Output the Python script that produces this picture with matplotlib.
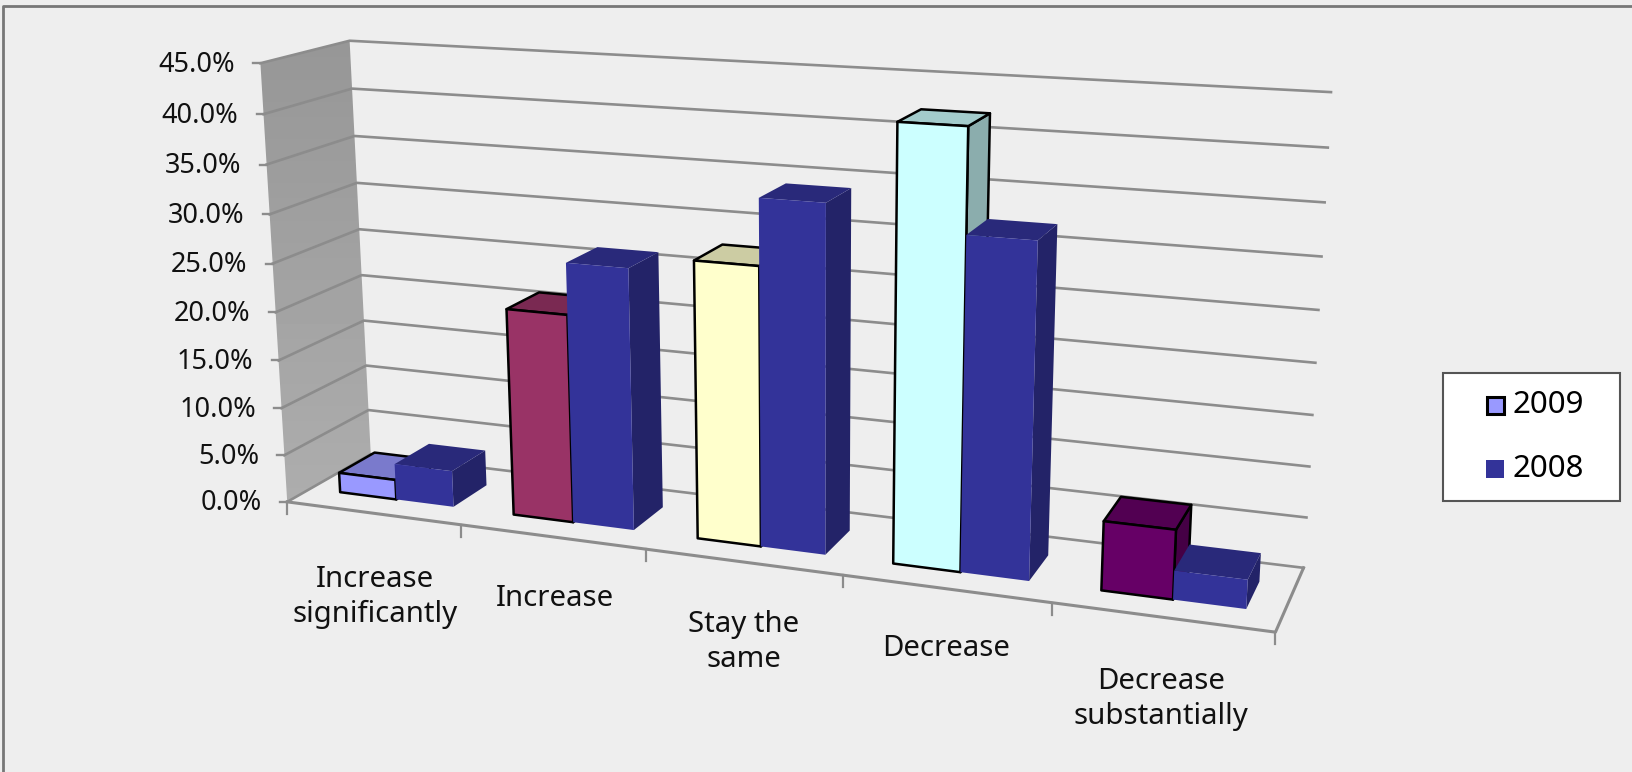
import numpy as np #operations
import matplotlib
matplotlib.use("Agg")
import matplotlib.pyplot as plt #plotting
from matplotlib.patches import Polygon, Rectangle

categories = ['Increase\nsignificantly', 'Increase', 'Stay the\nsame', 'Decrease', 'Decrease\nsubstantially']
values2009 = [2.1, 21.3, 27.8, 42.2, 6.7]
values2008 = [3.8, 26.5, 34.3, 32.3, 2.8]
colors2009 = ['#9999FF', '#993366', '#FFFFCC', '#CCFFFF', '#660066']
color2008 = '#333399'
yTicks = [0, 5, 10, 15, 20, 25, 30, 35, 40, 45]
legendNames = ['2009', '2008']

plt.rcParams['font.family'] = ['Noto Sans', 'DejaVu Sans']
W, H = 1633, 772
fig = plt.figure(figsize = (W / 100, H / 100), dpi = 100, facecolor = '#EEEEEE')
ax = fig.add_axes([0, 0, 1, 1])
ax.set_xlim(0, W)
ax.set_ylim(H, 0)
ax.axis('off')

#camera matrix fitted to the box corners, (category, value, depth) -> pixel
world = [(0, 0, 0), (0, 45, 0), (0, 45, 1), (0, 0, 1), (5, 0, 0), (5, 0, 1), (5, 45, 1)]
pixel = [(288, 504), (260, 62), (350, 42), (370, 452), (1275, 631), (1304, 569), (1331, 92)]
rows = []
for (a, b, c), (u, v) in zip(world, pixel):
    rows.append([a, b, c, 1, 0, 0, 0, 0, -u * a, -u * b, -u * c, -u])
    rows.append([0, 0, 0, 0, a, b, c, 1, -v * a, -v * b, -v * c, -v])
cam = np.linalg.svd(np.array(rows, dtype = float))[2][-1].reshape(3, 4)

def proj(a, b, c):
    p = cam @ np.array([a, b, c, 1.0])
    return p[0] / p[2], p[1] / p[2]

def shade(color, f):
    rgb = np.array(matplotlib.colors.to_rgb(color)) * f
    return tuple(rgb)

#left wall with soft gradient
wall = Polygon([proj(0, 0, 0), proj(0, 45, 0), proj(0, 45, 1), proj(0, 0, 1)], closed = True, fc = 'none', ec = 'none')
ax.add_patch(wall)
grad = np.linspace(0.59, 0.68, 64).reshape(-1, 1)
im = ax.imshow(grad, cmap = 'gray', vmin = 0, vmax = 1, extent = [250, 380, 510, 35], aspect = 'auto', zorder = 1)
im.set_clip_path(wall)
ax.set_xlim(0, W)
ax.set_ylim(H, 0)

gridColor = '#8C8C8C'
for t in yTicks:
    pts = [proj(0, t, 0), proj(0, t, 1), proj(5, t, 1)]
    ax.plot([p[0] for p in pts], [p[1] for p in pts], color = gridColor, lw = 1.9, zorder = 2)
    x0, y0 = proj(0, t, 0)
    ax.plot([x0 - 7, x0], [y0, y0], color = gridColor, lw = 1.7, zorder = 2)
    ax.text(x0 - 25, y0 + 1.5, f"{t:.1f}%", ha = 'right', va = 'center', fontsize = 19.5, color = '#111111', zorder = 6)

#floor edges and ticks
pts = [proj(0, 0, 0), proj(5, 0, 0), proj(5, 0, 1)]
ax.plot([p[0] for p in pts], [p[1] for p in pts], color = gridColor, lw = 2.2, zorder = 2)
for i in range(6):
    x0, y0 = proj(i, 0, 0)
    ax.plot([x0, x0], [y0, y0 + 12], color = gridColor, lw = 1.6, zorder = 2)

def drawBar(left, right, z0, z1, val, color, edge, order):
    lw = 1.8 if edge else 0
    ec = 'black' if edge else 'none'
    front = [proj(left, 0, z0), proj(right, 0, z0), proj(right, val, z0), proj(left, val, z0)]
    top = [proj(left, val, z0), proj(right, val, z0), proj(right, val, z1), proj(left, val, z1)]
    side = [proj(right, 0, z0), proj(right, 0, z1), proj(right, val, z1), proj(right, val, z0)]
    ax.add_patch(Polygon(side, closed = True, fc = shade(color, 0.68), ec = ec, lw = lw, joinstyle = 'round', zorder = order))
    ax.add_patch(Polygon(top, closed = True, fc = shade(color, 0.8), ec = ec, lw = lw, joinstyle = 'round', zorder = order))
    ax.add_patch(Polygon(front, closed = True, fc = color, ec = ec, lw = lw, joinstyle = 'round', zorder = order))

z0, z1 = 0.27, 0.70
gap, bw = 0.175, 0.33
for i in range(len(categories)):
    drawBar(i + gap, i + gap + bw, z0, z1, values2009[i], colors2009[i], True, 3 + i * 0.1)
    drawBar(i + gap + bw, i + gap + 2 * bw, z0, z1, values2008[i], color2008, False, 3.05 + i * 0.1)

#category labels
labelPos = [(375, 597), (555, 598), (744, 642), (946, 649), (1161, 699)]
for name, (x, y) in zip(categories, labelPos):
    ax.text(x, y, name, ha = 'center', va = 'center', fontsize = 21.2, linespacing = 1.25, color = '#111111', zorder = 6)

#legend
ax.add_patch(Rectangle((1443, 373), 177, 128, fc = 'white', ec = '#555555', lw = 1.5, zorder = 5))
ax.add_patch(Rectangle((1487, 397), 17, 17, fc = colors2009[0], ec = 'black', lw = 2.2, zorder = 6))
ax.add_patch(Rectangle((1486, 460), 18, 18, fc = color2008, ec = 'none', zorder = 6))
ax.text(1513, 405, legendNames[0], ha = 'left', va = 'center', fontsize = 22.5, zorder = 6)
ax.text(1513, 469, legendNames[1], ha = 'left', va = 'center', fontsize = 22.5, zorder = 6)

#outer frame, only top and left show
ax.plot([3, 3, W], [H, 5.5, 5.5], color = '#777777', lw = 2.0, zorder = 7)

fig.savefig("out.png", dpi = 100, facecolor = fig.get_facecolor())
